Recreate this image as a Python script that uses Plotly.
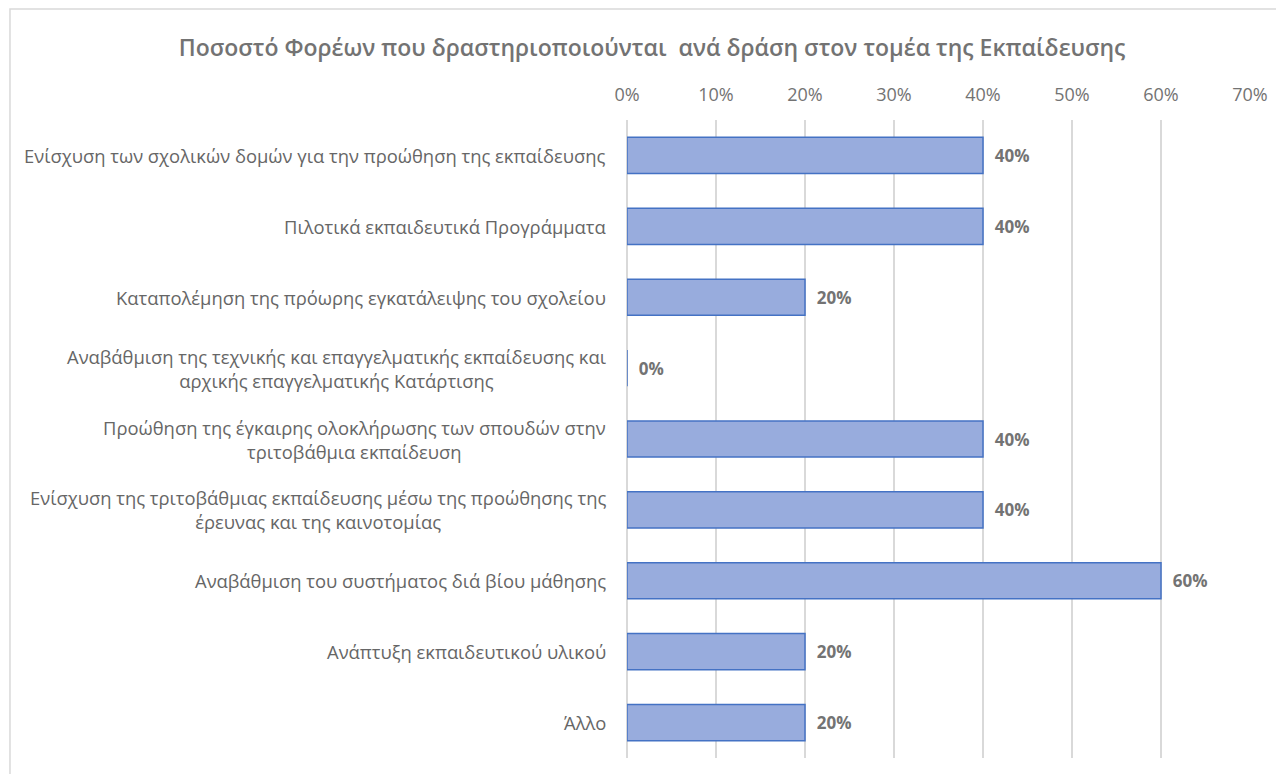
import plotly.graph_objects as go

categories = [
    "Ενίσχυση των σχολικών δομών για την προώθηση της εκπαίδευσης",
    "Πιλοτικά εκπαιδευτικά Προγράμματα",
    "Καταπολέμηση της πρόωρης εγκατάλειψης του σχολείου",
    "Αναβάθμιση της τεχνικής και επαγγελματικής εκπαίδευσης και<br>αρχικής επαγγελματικής Κατάρτισης",
    "Προώθηση της έγκαιρης ολοκλήρωσης των σπουδών στην<br>τριτοβάθμια εκπαίδευση",
    "Ενίσχυση της τριτοβάθμιας εκπαίδευσης μέσω της προώθησης της<br>έρευνας και της καινοτομίας",
    "Αναβάθμιση του συστήματος διά βίου μάθησης",
    "Ανάπτυξη εκπαιδευτικού υλικού",
    "Άλλο",
]
values = [0.40, 0.40, 0.20, 0.0, 0.40, 0.40, 0.60, 0.20, 0.20]
tick_vals = [0, 0.1, 0.2, 0.3, 0.4, 0.5, 0.6, 0.7]

grey = "#666666"
light_grey = "#737373"
font_family = "Open Sans, Noto Sans, sans-serif"

fig = go.Figure()
fig.add_trace(go.Bar(
    x=values,
    y=categories,
    orientation="h",
    width=0.51,
    marker=dict(color="#98ACDD", line=dict(color="#4472C4", width=1.5)),
    texttemplate="\u00a0\u00a0%{x:.0%}",
    textposition="outside",
    textfont=dict(family=font_family, size=17, color=light_grey, weight="bold"),
    cliponaxis=False,
))

# category labels as centred multi-line annotations
for cat in categories:
    fig.add_annotation(
        x=0, xref="paper", y=cat, yref="y",
        text=cat, showarrow=False,
        xanchor="right", yanchor="middle", align="center", xshift=-19,
        font=dict(family=font_family, size=18.4, color=grey),
    )

fig.update_layout(
    width=1284,
    height=774,
    paper_bgcolor="white",
    plot_bgcolor="white",
    margin=dict(l=619, r=42, t=112, b=24),
    showlegend=False,
    title=dict(
        text="Ποσοστό Φορέων που δραστηριοποιούνται  ανά δράση στον τομέα της Εκπαίδευσης",
        x=0.5016, xanchor="center", y=0.948, yanchor="middle",
        font=dict(family=font_family, size=23, color=light_grey, weight=600),
    ),
    font=dict(family=font_family, color=grey),
)

fig.update_xaxes(
    side="top",
    range=[0, 0.7],
    tickvals=tick_vals,
    tickformat=".0%",
    showgrid=True,
    gridcolor="#d9d9d9",
    gridwidth=1.5,
    zeroline=True,
    zerolinecolor="#d9d9d9",
    zerolinewidth=1.5,
    showline=False,
    ticks="",
    ticklabelstandoff=14,
    tickfont=dict(family=font_family, size=18, color=light_grey),
)
fig.update_yaxes(
    autorange="reversed",
    showgrid=False,
    showline=False,
    ticks="",
    showticklabels=False,
)

# outer chart frame
fig.add_shape(
    type="rect", xref="paper", yref="paper",
    x0=-0.9904, x1=1.2, y0=-0.2, y1=1.1740,
    line=dict(color="#d9d9d9", width=1.5), fillcolor="rgba(0,0,0,0)",
    layer="below",
)

fig.write_html("out.html")
